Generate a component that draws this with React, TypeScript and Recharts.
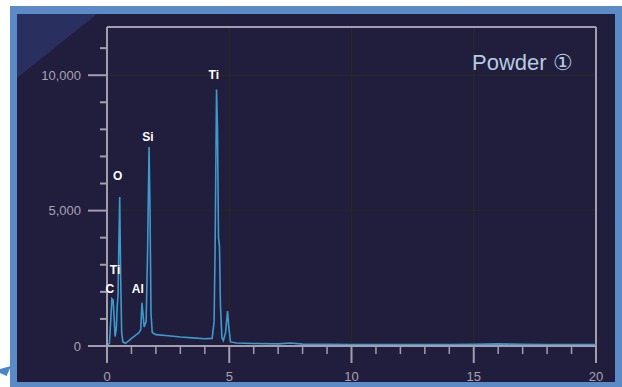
import { LineChart, Line, XAxis, YAxis, ReferenceLine, ReferenceDot } from 'recharts'

// EDS spectrum, energy (keV) vs counts
const energies = [
  0, 0.1, 0.15, 0.2, 0.25, 0.3, 0.33, 0.38, 0.42, 0.45, 0.48, 0.52, 0.56, 0.6, 0.65, 0.75,
  0.9, 1.0, 1.1, 1.2, 1.3, 1.38, 1.43, 1.47, 1.52, 1.6, 1.66, 1.72, 1.76, 1.8, 1.85,
  2.0, 2.5, 3.0, 3.5, 4.0, 4.3, 4.38, 4.42, 4.48, 4.52, 4.56, 4.6, 4.64, 4.7, 4.76,
  4.85, 4.93, 4.98, 5.05, 5.3, 6, 7, 7.5, 8, 9, 10, 11, 12, 13, 14, 15, 16, 16.5, 17, 18, 19, 20,
]
const counts = [
  0, 100, 900, 1750, 1700, 900, 350, 600, 1500, 1850, 3500, 5500, 2500, 500, 150, 100,
  200, 280, 350, 420, 480, 600, 1600, 1200, 700, 900, 3500, 7350, 5000, 1200, 500,
  420, 380, 330, 300, 270, 280, 900, 3500, 9470, 8000, 4000, 3700, 1500, 300, 200,
  500, 1290, 700, 150, 110, 90, 80, 110, 70, 60, 55, 50, 50, 50, 55, 60, 80, 70, 60, 55, 50, 50,
]

const peakLabels = ['C', 'Ti', 'O', 'Al', 'Si', 'Ti']
const peakLabelKev = [0.12, 0.33, 0.44, 1.26, 1.67, 4.37]
const peakLabelCounts = [2100, 2800, 6300, 2100, 7730, 10000]

const xTicks = Array.from({ length: 21 }, (_, i) => i)
const yTicks = Array.from({ length: 12 }, (_, i) => i * 1000)
const gridX = [5, 10, 15]
const gridY = [5000, 10000]

const Y_MAX = 11780
const AXIS = '#a39eae'
const GRID = '#27262d'
const FONT = '"Liberation Sans", Arial, sans-serif'

const data = energies.map((kev, i) => ({ kev, counts: counts[i] }))

function YTick({ x, y, payload }: any) {
  const major = payload.value % 5000 === 0
  return (
    <g>
      <line x1={x - (major ? 19 : 7)} x2={x} y1={y} y2={y} stroke={AXIS} strokeWidth={2} />
      {major && (
        <text x={x - 26} y={y} dy={4.5} textAnchor="end" fill="#a8a3b2" fontSize={13} fontFamily={FONT}>
          {payload.value.toLocaleString('en-US')}
        </text>
      )}
    </g>
  )
}

function XTick({ x, y, payload }: any) {
  const major = payload.value % 5 === 0
  return (
    <g>
      <line x1={x} x2={x} y1={y} y2={y + (major ? 17 : 8)} stroke={AXIS} strokeWidth={major ? 2 : 1.5} />
      {major && (
        <text x={x} y={y} dy={35} textAnchor="middle" fill="#a8a3b2" fontSize={13} fontFamily={FONT}>
          {payload.value}
        </text>
      )}
    </g>
  )
}

export default function App() {
  return (
    <div style={{ position: 'relative', width: 622, height: 387, background: '#fff', overflow: 'hidden' }}>
      <style>{'body{margin:0}'}</style>
      {/* blue frame */}
      <div style={{ position: 'absolute', left: 10, top: 6, width: 612, height: 381, background: '#5b8ac6' }} />
      <div style={{ position: 'absolute', left: 17, top: 14, width: 598, height: 368, background: '#201d3d' }} />
      <div
        style={{
          position: 'absolute', left: 17, top: 14, width: 80, height: 64,
          background: '#29305f', clipPath: 'polygon(0 0, 100% 0, 0 100%)',
        }}
      />
      <div
        style={{
          position: 'absolute', left: 0, top: 366, width: 11, height: 10,
          background: '#4a86cc', clipPath: 'polygon(0 30%, 100% 0, 60% 100%, 0 70%)',
        }}
      />
      <LineChart
        width={622}
        height={387}
        data={data}
        margin={{ top: 27, right: 26, bottom: 11, left: 67 }}
        style={{ position: 'absolute', left: 0, top: 0 }}
      >
        <XAxis
          type="number"
          dataKey="kev"
          domain={[0, 20]}
          ticks={xTicks}
          interval={0}
          height={30}
          axisLine={false}
          tickLine={false}
          tickSize={0}
          tickMargin={0}
          tick={<XTick />}
        />
        <YAxis
          type="number"
          domain={[0, Y_MAX]}
          ticks={yTicks}
          interval={0}
          width={40}
          axisLine={false}
          tickLine={false}
          tickSize={0}
          tickMargin={0}
          allowDataOverflow
          tick={<YTick />}
        />
        {gridY.map((v) => (
          <ReferenceLine key={'gy' + v} y={v} stroke={GRID} strokeWidth={1.5} />
        ))}
        {gridX.map((v) => (
          <ReferenceLine key={'gx' + v} x={v} stroke={GRID} strokeWidth={1.5} />
        ))}
        <ReferenceLine segment={[{ x: 0, y: Y_MAX }, { x: 20, y: Y_MAX }]} stroke={AXIS} strokeWidth={2} ifOverflow="visible" />
        <ReferenceLine segment={[{ x: 20, y: -620 }, { x: 20, y: Y_MAX }]} stroke={AXIS} strokeWidth={2} ifOverflow="visible" />
        <Line
          dataKey="counts"
          stroke="#3e9acd"
          strokeWidth={1.6}
          dot={false}
          type="linear"
          isAnimationActive={false}
        />
        <ReferenceLine segment={[{ x: 0, y: -620 }, { x: 0, y: Y_MAX }]} stroke={AXIS} strokeWidth={2} ifOverflow="visible" />
        <ReferenceLine segment={[{ x: -0.78, y: 0 }, { x: 20, y: 0 }]} stroke={AXIS} strokeWidth={2} ifOverflow="visible" />
        {peakLabels.map((t, i) => (
          <ReferenceDot
            key={'pl' + i}
            x={peakLabelKev[i]}
            y={peakLabelCounts[i]}
            r={0}
            fill="none"
            stroke="none"
            label={{ value: t, position: 'center', fill: '#ffffff', fontSize: 12, fontFamily: FONT, fontWeight: 'bold' }}
          />
        ))}
      </LineChart>
      <div
        style={{
          position: 'absolute', left: 472, top: 50, fontSize: 22, lineHeight: '26px',
          color: '#b6cbe0', fontFamily: FONT, whiteSpace: 'nowrap',
        }}
      >
        Powder ①
      </div>
    </div>
  )
}
